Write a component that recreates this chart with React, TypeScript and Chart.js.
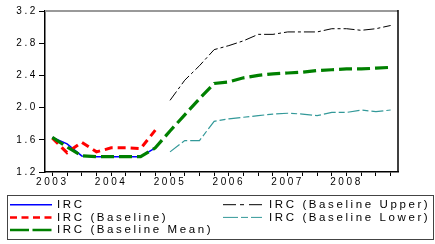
import { useEffect, useRef } from "react";
import { Chart, registerables } from "chart.js";

Chart.register(...registerables);

const quarters = [
  "2003Q1", "2003Q2", "2003Q3", "2003Q4",
  "2004Q1", "2004Q2", "2004Q3", "2004Q4",
  "2005Q1", "2005Q2", "2005Q3", "2005Q4",
  "2006Q1", "2006Q2", "2006Q3", "2006Q4",
  "2007Q1", "2007Q2", "2007Q3", "2007Q4",
  "2008Q1", "2008Q2", "2008Q3", "2008Q4",
];

const xTickLabels = [
  "2003", "", "", "",
  "2004", "", "", "",
  "2005", "", "", "",
  "2006", "", "", "",
  "2007", "", "", "",
  "2008", "", "", "",
];

const yTicks = [1.2, 1.6, 2.0, 2.4, 2.8, 3.2];

const irc = [
  1.63, 1.55, 1.40, 1.39, 1.39, 1.39, 1.39, 1.50,
  null, null, null, null, null, null, null, null,
  null, null, null, null, null, null, null, null,
];

const ircBaseline = [
  1.62, 1.44, 1.57, 1.45, 1.50, 1.50, 1.49, 1.72,
  null, null, null, null, null, null, null, null,
  null, null, null, null, null, null, null, null,
];

const ircBaselineMean = [
  1.63, 1.51, 1.40, 1.39, 1.39, 1.39, 1.39, 1.50,
  1.71, 1.91, 2.11, 2.30, 2.32, 2.37, 2.40, 2.42,
  2.43, 2.44, 2.46, 2.47, 2.48, 2.48, 2.49, 2.50,
];

const ircBaselineUpper = [
  null, null, null, null, null, null, null, null,
  2.09, 2.34, 2.52, 2.72, 2.77, 2.83, 2.91, 2.91,
  2.94, 2.94, 2.94, 2.98, 2.98, 2.96, 2.98, 3.02,
];

const ircBaselineLower = [
  null, null, null, null, null, null, null, null,
  1.45, 1.59, 1.59, 1.83, 1.86, 1.88, 1.90, 1.92,
  1.93, 1.92, 1.90, 1.94, 1.94, 1.97, 1.95, 1.97,
];

const seriesNames = [
  "IRC",
  "IRC (Baseline)",
  "IRC (Baseline Mean)",
  "IRC (Baseline Upper)",
  "IRC (Baseline Lower)",
];

const FONT = "'Liberation Sans', Arial, Helvetica, sans-serif";
const SPACING = "2.6px";

const legendStyles = [
  { color: "#0000ff", width: 1.5, dash: [] as number[] },
  { color: "#ff0000", width: 2.5, dash: [7, 4.5] },
  { color: "#008000", width: 2.5, dash: [19, 3.5] },
  { color: "#000000", width: 1, dash: [13, 4, 4, 5] },
  { color: "#339999", width: 1, dash: [15, 3, 7, 3] },
];

const spacingPlugin = {
  id: "letterSpacing",
  beforeDraw(chart: any) {
    (chart.ctx as any).letterSpacing = SPACING;
  },
};

const framePlugin = {
  id: "frame",
  afterDatasetsDraw(chart: any) {
    const { ctx, chartArea } = chart;
    ctx.save();
    ctx.strokeStyle = "#999999";
    ctx.lineWidth = 2;
    ctx.beginPath();
    ctx.moveTo(chartArea.left, chartArea.top);
    ctx.lineTo(chartArea.right, chartArea.top);
    ctx.stroke();
    ctx.strokeStyle = "#000000";
    ctx.lineWidth = 1.5;
    ctx.beginPath();
    ctx.moveTo(chartArea.right, chartArea.top - 1);
    ctx.lineTo(chartArea.right, chartArea.bottom);
    ctx.stroke();
    ctx.restore();
  },
};

const boxLegendPlugin = {
  id: "boxLegend",
  afterDraw(chart: any) {
    const ctx = chart.ctx as CanvasRenderingContext2D;
    ctx.save();
    (ctx as any).letterSpacing = SPACING;
    ctx.strokeStyle = "#444444";
    ctx.lineWidth = 1;
    ctx.setLineDash([]);
    ctx.strokeRect(7.5, 195.5, 426, 44);
    const cols = [
      { lx0: 10, lx1: 52, tx: 57 },
      { lx0: 223, lx1: 262, tx: 269 },
    ];
    const places = [
      { col: 0, row: 0 },
      { col: 0, row: 1 },
      { col: 0, row: 2 },
      { col: 1, row: 0 },
      { col: 1, row: 1 },
    ];
    ctx.font = `11.5px ${FONT}`;
    ctx.textBaseline = "alphabetic";
    ctx.textAlign = "left";
    places.forEach((p, i) => {
      const st = legendStyles[i];
      const c = cols[p.col];
      const ly = 204.7 + p.row * 12.7;
      ctx.strokeStyle = st.color;
      ctx.lineWidth = st.width;
      ctx.setLineDash(st.dash);
      ctx.beginPath();
      ctx.moveTo(c.lx0, ly);
      ctx.lineTo(c.lx1, ly);
      ctx.stroke();
      ctx.fillStyle = "#000000";
      ctx.fillText(seriesNames[i], c.tx, ly + 3.2);
    });
    ctx.restore();
  },
};

export default function App() {
  const ref = useRef<HTMLCanvasElement | null>(null);

  useEffect(() => {
    document.body.style.margin = "0";
    const canvas = ref.current;
    if (!canvas) return;
    const chart = new Chart(canvas, {
      type: "line",
      data: {
        labels: quarters,
        datasets: [
          {
            label: seriesNames[0],
            data: irc,
            borderColor: "#0000ff",
            borderWidth: 1.5,
            order: 2,
          },
          {
            label: seriesNames[1],
            data: ircBaseline,
            borderColor: "#ff0000",
            borderWidth: 3,
            borderDash: [8, 5],
            order: 1,
          },
          {
            label: seriesNames[2],
            data: ircBaselineMean,
            borderColor: "#008000",
            borderWidth: 3.2,
            borderDash: [13, 5],
            order: 0,
          },
          {
            label: seriesNames[3],
            data: ircBaselineUpper,
            borderColor: "#000000",
            borderWidth: 1,
            borderDash: [11, 3, 3, 3],
            order: 3,
          },
          {
            label: seriesNames[4],
            data: ircBaselineLower,
            borderColor: "#339999",
            borderWidth: 1.2,
            borderDash: [12, 3, 6, 3],
            order: 4,
          },
        ] as any,
      },
      options: {
        animation: false,
        responsive: false,
        devicePixelRatio: 1,
        spanGaps: false,
        elements: {
          point: { radius: 0, hoverRadius: 0 },
          line: { tension: 0, fill: false, borderCapStyle: "butt" },
        },
        layout: { padding: { left: 0, right: 37, top: 11, bottom: 52 } },
        plugins: {
          legend: { display: false },
          tooltip: { enabled: false },
          title: { display: false },
        },
        scales: {
          x: {
            type: "category",
            offset: true,
            grid: {
              display: true,
              drawOnChartArea: false,
              drawTicks: true,
              tickLength: 4,
              offset: false,
              color: "#000000",
              lineWidth: 1,
            },
            border: { display: true, color: "#000000", width: 1.5 },
            ticks: {
              autoSkip: false,
              maxRotation: 0,
              minRotation: 0,
              padding: 0,
              color: "#000000",
              font: { family: FONT, size: 10 },
              callback: (_v: any, i: number) => xTickLabels[i],
            },
            afterFit: (scale: any) => {
              scale.height = 20;
            },
          },
          y: {
            type: "linear",
            min: yTicks[0],
            max: yTicks[yTicks.length - 1],
            afterBuildTicks: (scale: any) => {
              scale.ticks = yTicks.map((v) => ({ value: v }));
            },
            grid: {
              display: true,
              drawOnChartArea: false,
              drawTicks: true,
              tickLength: 6,
              color: "#000000",
              lineWidth: 1,
            },
            border: { display: true, color: "#000000", width: 1.5 },
            ticks: {
              padding: 1,
              color: "#000000",
              font: { family: FONT, size: 10 },
              callback: (v: any) => Number(v).toFixed(1),
            },
            afterFit: (scale: any) => {
              scale.width = 45;
            },
          },
        },
      },
      plugins: [spacingPlugin, framePlugin, boxLegendPlugin],
    });
    return () => chart.destroy();
  }, []);

  return (
    <div style={{ width: 435, height: 244, background: "#ffffff" }}>
      <canvas ref={ref} width={435} height={244} style={{ display: "block" }} />
    </div>
  );
}
